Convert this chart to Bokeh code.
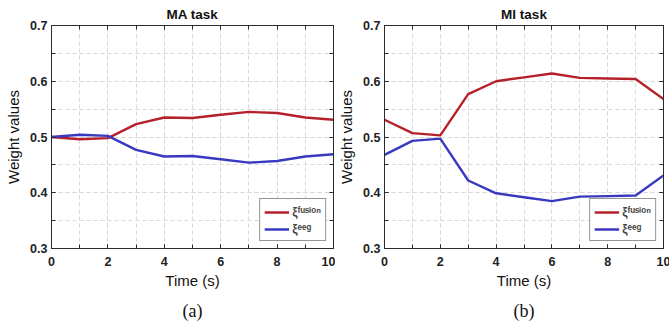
from bokeh.plotting import figure
from bokeh.layouts import row
from bokeh.models import (FixedTicker, LinearAxis, Legend, LegendItem, Title, Range1d)
from bokeh.embed import file_html
from bokeh.resources import INLINE

time_s = [0, 1, 2, 3, 4, 5, 6, 7, 8, 9, 10]
ma_fusion = [0.500, 0.496, 0.498, 0.523, 0.535, 0.534, 0.540, 0.545, 0.543, 0.535, 0.531]
ma_eeg = [0.500, 0.504, 0.502, 0.477, 0.465, 0.466, 0.460, 0.454, 0.457, 0.465, 0.469]
mi_fusion = [0.531, 0.507, 0.503, 0.577, 0.600, 0.607, 0.614, 0.606, 0.605, 0.604, 0.568]
mi_eeg = [0.468, 0.493, 0.497, 0.422, 0.399, 0.392, 0.385, 0.393, 0.394, 0.395, 0.431]
x_ticks = [0, 2, 4, 6, 8, 10]
x_minor = [0, 1, 2, 3, 4, 5, 6, 7, 8, 9, 10]
y_ticks = [0.3, 0.4, 0.5, 0.6, 0.7]
y_minor = [0.3, 0.35, 0.4, 0.45, 0.5, 0.55, 0.6, 0.65, 0.7]
titles = ["MA task", "MI task"]
captions = ["(a)", "(b)"]
legend_labels = ["ξᶠᵘˢⁱᵒⁿ", "ξᵉᵉᵍ"]

RED = "#B5202A"
BLUE = "#3838C0"
DARK = "#2b2b2b"
GRID = "#d8d8d8"
SANS = "Liberation Sans"

FRAME_H = 223


def style_axis(ax, ticks, minor, show_labels, standoff=5):
    ax.ticker = FixedTicker(ticks=ticks, minor_ticks=minor)
    ax.axis_line_color = DARK
    ax.major_tick_line_color = DARK
    ax.minor_tick_line_color = DARK
    ax.major_tick_in = 4
    ax.major_tick_out = 0
    ax.minor_tick_in = 4
    ax.minor_tick_out = 0
    ax.major_label_text_font = SANS
    ax.major_label_text_font_style = "bold"
    if show_labels:
        ax.major_label_text_color = "#222222"
        ax.major_label_text_font_size = "12.5px"
        ax.major_label_standoff = standoff
    else:
        ax.major_label_text_color = None
        ax.major_label_text_font_size = "0px"
        ax.major_label_standoff = 0


def make_panel(title, caption, fusion, eeg, frame_w, left, right):
    p = figure(frame_width=frame_w, frame_height=FRAME_H,
               min_border_left=left, min_border_right=right,
               min_border_top=25, min_border_bottom=80,
               x_range=Range1d(0, 10), y_range=Range1d(0.3, 0.7),
               output_backend="svg", toolbar_location=None)
    p.title.text = title
    p.title.align = "center"
    p.title.text_font = SANS
    p.title.text_font_style = "bold"
    p.title.text_font_size = "13.5px"
    p.title.text_color = "#111111"
    p.title.standoff = 8
    p.title.offset = 0
    p.outline_line_color = DARK
    p.outline_line_width = 1
    p.background_fill_color = "white"
    p.border_fill_color = "white"

    style_axis(p.xaxis[0], x_ticks, x_minor, True, standoff=8)
    style_axis(p.yaxis[0], y_ticks, y_minor, True, standoff=4)
    p.xaxis.axis_label = "Time (s)"
    p.yaxis.axis_label = "Weight values"
    for ax in (p.xaxis[0], p.yaxis[0]):
        ax.axis_label_text_font = SANS
        ax.axis_label_text_font_style = "normal"
        ax.axis_label_text_font_size = "15px"
        ax.axis_label_text_color = "#111111"
    p.xaxis[0].axis_label_standoff = 3
    p.yaxis[0].axis_label_standoff = 5

    top = LinearAxis()
    style_axis(top, x_ticks, x_minor, False)
    p.add_layout(top, "above")
    rgt = LinearAxis()
    style_axis(rgt, y_ticks, y_minor, False)
    p.add_layout(rgt, "right")

    for g in p.grid:
        g.grid_line_color = GRID
        g.grid_line_dash = "4 3"
        g.grid_line_width = 1
        g.minor_grid_line_color = GRID
        g.minor_grid_line_dash = "4 3"
        g.minor_grid_line_width = 1

    r1 = p.line(time_s, fusion, line_color=RED, line_width=2.4)
    r2 = p.line(time_s, eeg, line_color=BLUE, line_width=2.4)

    leg = Legend(items=[LegendItem(label=legend_labels[0], renderers=[r1]),
                        LegendItem(label=legend_labels[1], renderers=[r2])],
                 location="bottom_right")
    leg.border_line_color = DARK
    leg.border_line_width = 1
    leg.background_fill_alpha = 1
    leg.label_text_font = SANS
    leg.label_text_font_style = "bold"
    leg.label_text_font_size = "12px"
    leg.glyph_width = 25
    leg.glyph_height = 14
    leg.label_standoff = 3
    leg.spacing = 2
    leg.padding = 4
    leg.margin = 7
    leg.label_height = 14
    p.add_layout(leg, "center")

    cap = Title(text=caption, align="center", text_font="Liberation Serif",
                text_font_size="18px", text_font_style="normal",
                text_color="#111111", standoff=15, offset=0)
    p.add_layout(cap, "below")
    return p


p1 = make_panel(titles[0], captions[0], ma_fusion, ma_eeg, 282, 51, 2)
p2 = make_panel(titles[1], captions[1], mi_fusion, mi_eeg, 279, 46, 9)
layout = row(p1, p2)

open("out.html", "w").write(file_html(layout, INLINE))
